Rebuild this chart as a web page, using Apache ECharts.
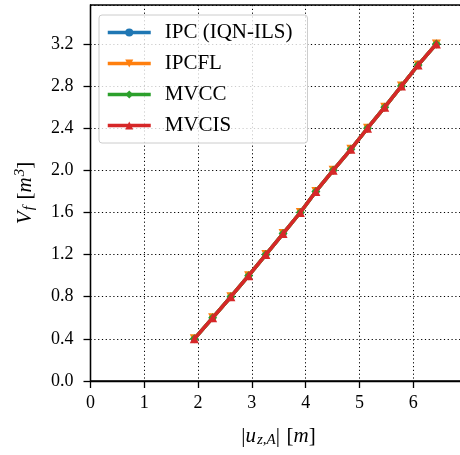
<!DOCTYPE html>
<html>
<head>
<meta charset="utf-8">
<script src="https://cdn.jsdelivr.net/npm/echarts@6/dist/echarts.min.js"></script>
<style>html,body{margin:0;padding:0;background:#fff}#c{width:460px;height:455px}</style>
</head>
<body>
<div id="c"></div>
<script>
var seriesNames = ['IPC (IQN-ILS)', 'IPCFL', 'MVCC', 'MVCIS'];
var seriesColors = ['#1f77b4', '#ff7f0e', '#2ca02c', '#d62728'];
var seriesSymbols = ['circle', 'path://M-1,-1L1,-1L0,1Z', 'diamond', 'triangle'];
var dispX = [1.93, 2.27, 2.61, 2.94, 3.26, 3.58, 3.90, 4.19, 4.51, 4.84, 5.15, 5.47, 5.78, 6.09, 6.43];
var volume = [0.4, 0.6, 0.8, 1.0, 1.2, 1.4, 1.6, 1.8, 2.0, 2.2, 2.4, 2.6, 2.8, 3.0, 3.2];
var xTicks = [0, 1, 2, 3, 4, 5, 6];
var yTicks = [0.0, 0.4, 0.8, 1.2, 1.6, 2.0, 2.4, 2.8, 3.2];

var FONT = 'Liberation Serif';
var chart = echarts.init(document.getElementById('c'), null, {renderer: 'canvas'});

var series = seriesNames.map(function (n, i) {
  return {
    name: n,
    type: 'line',
    data: dispX.map(function (x, k) { return [x, volume[k]]; }),
    symbol: seriesSymbols[i],
    symbolSize: i === 0 ? 7 : 9,
    showAllSymbol: true,
    lineStyle: {color: seriesColors[i], width: 3.5},
    itemStyle: {color: seriesColors[i]},
    z: 2 + i,
    animation: false
  };
});

var richName = {
  n: {fontFamily: FONT, fontSize: 21, color: '#000'},
  i: {fontFamily: FONT, fontSize: 21, fontStyle: 'italic', color: '#000'},
  sub: {fontFamily: FONT, fontSize: 15, fontStyle: 'italic', color: '#000', padding: [9, 0, 0, 1]},
  sup: {fontFamily: FONT, fontSize: 15, fontStyle: 'italic', color: '#000', padding: [0, 0, 10, 1]}
};

chart.setOption({
  animation: false,
  backgroundColor: '#fff',
  grid: {left: 90.5, top: 5, width: 376, height: 376, outerBoundsMode: 'none', containLabel: false,
    show: true, borderColor: '#000', borderWidth: 1.3, backgroundColor: 'transparent'},
  legend: {
    orient: 'vertical',
    left: 99, top: 15,
    padding: [7, 15, 7, 7],
    itemGap: 10,
    itemWidth: 43, itemHeight: 10,
    backgroundColor: 'rgba(255,255,255,0.8)',
    borderColor: '#cccccc', borderWidth: 1, borderRadius: 3,
    lineStyle: {width: 3.5},
    textStyle: {fontFamily: FONT, fontSize: 21, color: '#000', lineHeight: 18, padding: [0, 0, 0, 9]},
    data: seriesNames
  },
  xAxis: {
    type: 'value', min: 0, max: 6.99, interval: 1,
    name: '{n||}{i|u}{sub|z,A}{n||}  {n|[}{i|m}{n|]}',
    nameLocation: 'middle', nameGap: 43,
    nameTextStyle: {rich: richName},
    axisLine: {show: true, lineStyle: {color: '#000', width: 1.3}},
    axisTick: {show: true, inside: false, length: 7, lineStyle: {color: '#000', width: 1.3}},
    axisLabel: {fontFamily: FONT, fontSize: 18, color: '#000', margin: 13, showMaxLabel: false,
      formatter: function (v) { return xTicks.indexOf(v) >= 0 ? String(v) : ''; }},
    splitLine: {show: true, lineStyle: {color: '#000', width: 1, type: [1.2, 2.6]}}
  },
  yAxis: {
    type: 'value', min: 0, max: 3.57, interval: 0.4,
    name: '{i|V}{sub|f}  {n|[}{i|m}{sup|3}{n|]}',
    nameLocation: 'middle', nameGap: 53, nameRotate: 90,
    nameTextStyle: {rich: richName},
    axisLine: {show: true, lineStyle: {color: '#000', width: 1.3}},
    axisTick: {show: true, inside: false, length: 7, lineStyle: {color: '#000', width: 1.3}},
    axisLabel: {fontFamily: FONT, fontSize: 18, color: '#000', margin: 17, showMaxLabel: false,
      formatter: function (v) {
        var r = Math.round(v * 10) / 10;
        return yTicks.indexOf(r) >= 0 && Math.abs(v - r) < 1e-6 ? r.toFixed(1) : '';
      }},
    splitLine: {show: true, lineStyle: {color: '#000', width: 1, type: [1.2, 2.6]}}
  },
  series: series
});
</script>
</body>
</html>
